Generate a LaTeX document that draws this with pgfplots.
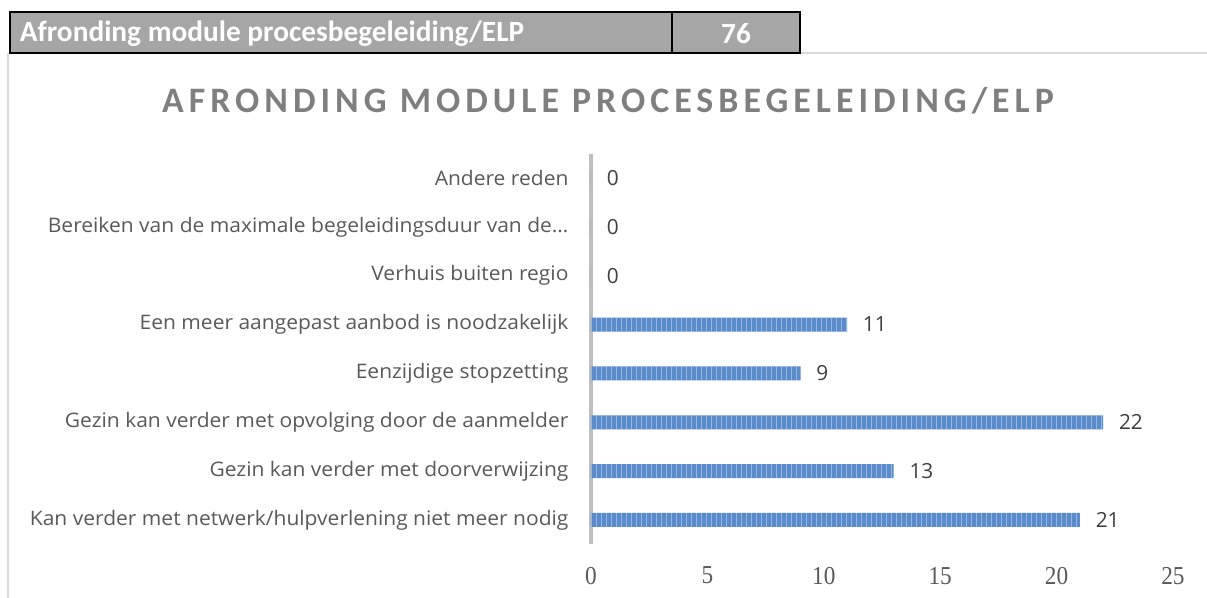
\documentclass[border=0pt]{standalone}
\usepackage{pgfplots}
\pgfplotsset{compat=1.18}
\usepackage{fontspec}
\setmainfont{Open Sans}
\newfontfamily\catfont[FakeStretch=1.05]{Open Sans}
\newfontfamily\calibri{Carlito}
\newfontfamily\titlefont[LetterSpace=14]{Carlito}
\newfontfamily\serifnum[FakeStretch=0.9]{Liberation Serif}
\usetikzlibrary{patterns}
\definecolor{barblue}{HTML}{5A8BCA}
\definecolor{barlight}{HTML}{B8CDEA}
\definecolor{labelgray}{HTML}{595959}
\definecolor{titlegray}{HTML}{7F7F7F}
\definecolor{headgray}{HTML}{A6A6A6}
\definecolor{framegray}{HTML}{D9D9D9}
\definecolor{axisgray}{HTML}{BFBFBF}

\begin{document}
\begin{tikzpicture}
% picture frame, header and title (1 px = 0.6pt)
\begin{scope}[x=0.6pt, y=-0.6pt]
  \path[use as bounding box] (0,0) rectangle (1207,598);
  \draw[framegray, line width=0.8pt] (8,53) -- (8,598);
  \draw[framegray, line width=0.8pt] (800,53) -- (1207,53);
  \draw[fill=headgray, line width=1.4pt] (10,12) rectangle (800,53);
  \draw[line width=1.4pt] (672,12) -- (672,53);
  \node[anchor=west, text=white, font=\calibri\bfseries\fontsize{17.6}{17.6}\selectfont]
    at (14,34) {Afronding module procesbegeleiding/ELP};
  \node[text=white, font=\calibri\bfseries\fontsize{17.6}{17.6}\selectfont]
    at (736,34) {76};
  \node[text=titlegray, font=\titlefont\bfseries\fontsize{21.5}{21.5}\selectfont]
    at (608,101) {AFRONDING MODULE PROCESBEGELEIDING/ELP};
\end{scope}

\begin{axis}[
  at={(354.6pt,-326.64pt)}, anchor=south west,
  scale only axis,
  width=349.2pt, height=234.5pt,
  xbar, bar width=8.4pt,
  xmin=0, xmax=25, ymin=-0.5, ymax=7.5,
  enlarge x limits=false, enlarge y limits=false,
  axis lines*=left,
  x axis line style={draw=none},
  y axis line style={draw=axisgray, line width=2pt},
  major tick length=0pt,
  /pgf/number format/assume math mode=true,
  xtick={0,5,10,15,20,25},
  ytick={0,1,2,3,4,5,6,7},
  yticklabels={
    Kan verder met netwerk/hulpverlening niet meer nodig,
    Gezin kan verder met doorverwijzing,
    Gezin kan verder met opvolging door de aanmelder,
    Eenzijdige stopzetting,
    Een meer aangepast aanbod is noodzakelijk,
    Verhuis buiten regio,
    Bereiken van de maximale begeleidingsduur van de…,
    Andere reden},
  xticklabel style={font=\serifnum\fontsize{15.5}{15.5}\selectfont, text=labelgray, yshift=-10pt},
  yticklabel style={font=\catfont\fontsize{12}{12}\selectfont, text=labelgray, xshift=-10pt},
  nodes near coords,
  every node near coord/.append style={anchor=west, xshift=6pt,
    font=\fontsize{12.5}{12.5}\selectfont, text=black!75},
]
\addplot[draw=none, fill=barblue,
  postaction={pattern=vertical lines, pattern color=barlight}]
  coordinates {
    (21,0) (13,1) (22,2) (9,3) (11,4) (0,5) (0,6) (0,7)
  };
\end{axis}
\end{tikzpicture}
\end{document}
